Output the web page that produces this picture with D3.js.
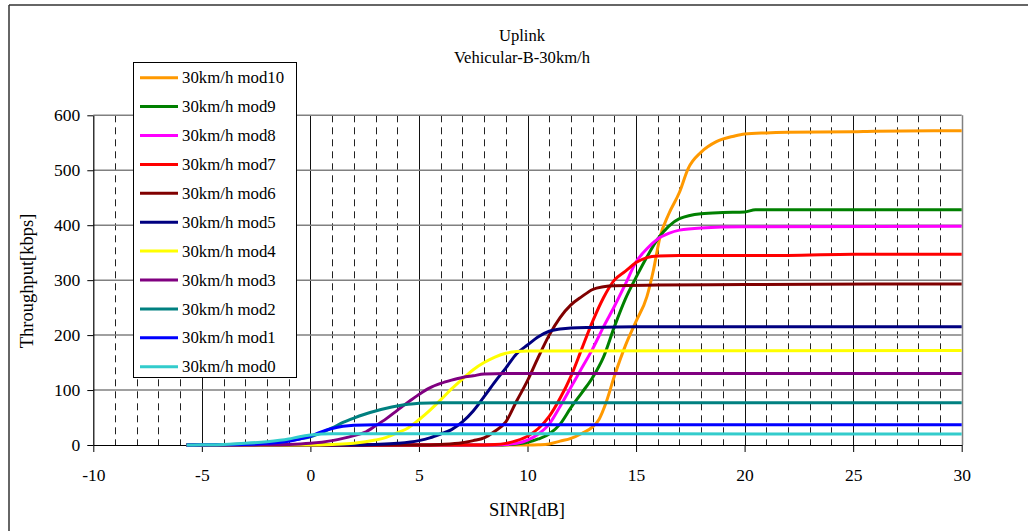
<!DOCTYPE html>
<html><head><meta charset="utf-8">
<script src="https://cdn.jsdelivr.net/npm/d3@7"></script>
<style>
html,body{margin:0;padding:0;background:#fff;}
svg{display:block;}
svg text{font-family:"Liberation Serif","Times New Roman","DejaVu Serif",serif !important;}
</style></head>
<body>
<svg id="chart" width="1028" height="531"></svg>
<script>
// ---- data (SINR dB, throughput kbps) ----
const seriesNames = ["30km/h mod10","30km/h mod9","30km/h mod8","30km/h mod7","30km/h mod6","30km/h mod5","30km/h mod4","30km/h mod3","30km/h mod2","30km/h mod1","30km/h mod0"];
const seriesColors = ["#FF9900","#008000","#FF00FF","#FF0000","#800000","#000080","#FFFF00","#800080","#008080","#0000FF","#33CCCC"];
const mod10 = [[-5.7,0],[10,0],[10.5,0.5],[11,2],[11.5,7],[12,12],[12.5,21],[13,33],[13.3,47],[13.6,75],[14,125],[14.5,180],[15,225],[15.5,270],[15.8,318],[16.1,378],[16.5,420],[17,460],[17.4,503],[18,533],[18.7,552],[19.5,562],[20,566],[21,568],[22,569],[25,570],[26,571],[30,572]];
const mod9 = [[-5.7,0],[8.5,0],[9.5,2],[10,5],[10.5,11],[11,20],[11.5,38],[12,68],[12.5,95],[13,123],[13.5,160],[14,215],[14.5,265],[15,305],[15.5,342],[16,375],[16.5,398],[17,412],[18,421],[19,423],[20,424],[20.5,428],[30,428]];
const mod8 = [[-5.7,0],[8,0],[9,1],[9.5,3],[10,9],[10.5,20],[11,38],[11.5,70],[12,105],[12.5,140],[13,175],[13.5,215],[14,252],[14.5,292],[15,333],[15.5,357],[16,375],[16.5,385],[17,391],[18,395],[20,397],[30,398]];
const mod7 = [[-5.7,0],[7.5,0],[8.5,1],[9,3],[9.5,8],[10,16],[10.5,30],[11,52],[11.5,85],[12,125],[12.5,175],[13,225],[13.5,268],[14,300],[14.5,316],[15,332],[15.5,341],[16,344],[17,345],[22,345],[25,347],[30,347]];
const mod6 = [[-5.7,0],[5,0],[6,1],[7,4],[7.5,8],[8,13],[8.5,25],[9,42],[9.5,80],[10,117],[10.5,160],[11,200],[11.5,232],[12,255],[12.5,270],[13,283],[13.5,288],[14,290],[16,291],[20,292],[30,293]];
const mod5 = [[-5.7,0],[2,0],[3,1],[4,3],[5,8],[5.5,13],[6,20],[6.5,28],[7,42],[7.5,62],[8,88],[8.5,115],[9,140],[9.5,166],[10,182],[10.5,197],[11,207],[11.5,211],[12,213],[13,214],[15,215],[30,215]];
const mod4 = [[-5.7,0],[0,0],[1,1],[2,3],[3,9],[3.5,14],[4,22],[4.5,31],[5,46],[5.5,63],[6,82],[6.5,102],[7,120],[7.5,137],[8,150],[8.5,160],[9,167],[9.5,170],[10,171],[30,172]];
const mod3 = [[-5.7,0],[-3,0],[-2,0.5],[-1,1],[0,3],[1,8],[1.5,12],[2,17],[2.5,23],[3,35],[3.5,48],[4,63],[4.5,78],[5,92],[5.5,104],[6,112],[6.5,118],[7,123],[7.5,126],[8,129],[9,130],[30,130]];
const mod2 = [[-5.7,0],[-4,0.5],[-3,2],[-2,4],[-1,8],[-0.5,11],[0,15],[0.5,22],[1,31],[1.5,41],[2,49],[2.5,56],[3,62],[3.5,67],[4,71],[4.5,74],[5,76],[6,77],[30,77]];
const mod1 = [[-5.7,0],[-4,0.5],[-3,1],[-2,3],[-1,7],[-0.5,11],[0,16],[0.5,24],[1,30],[1.5,34],[2,36],[3,37],[30,37]];
const mod0 = [[-5.7,0],[-5,0.3],[-4,1],[-3,3],[-2,6],[-1,11],[-0.5,15],[0,18],[0.5,20],[1,20.5],[2,20.5],[30,20]];
const seriesData = [mod10,mod9,mod8,mod7,mod6,mod5,mod4,mod3,mod2,mod1,mod0];
const xTicks = [-10,-5,0,5,10,15,20,25,30];
const yTicks = [0,100,200,300,400,500,600];
const titleLines = ["Uplink","Vehicular-B-30km/h"];
const xTitle = "SINR[dB]";
const yTitle = "Throughput[kbps]";

// ---- layout ----
const FONT = "Liberation Serif, Times New Roman, DejaVu Serif, serif";
const svg = d3.select("#chart");
const L = 93.3, R = 961.7, T = 115.3, B = 445;
const x = d3.scaleLinear().domain([-10,30]).range([L,R]);
const y = d3.scaleLinear().domain([0,600]).range([B,T]);

// outer border (top & left)
svg.append("line").attr("x1",9).attr("x2",1028).attr("y1",5).attr("y2",5).attr("stroke","#333").attr("stroke-width",1.5);
svg.append("line").attr("x1",9).attr("x2",9).attr("y1",5).attr("y2",531).attr("stroke","#333").attr("stroke-width",1.5);

// minor dashed vertical grid
const minor = d3.range(-9,30).filter(v => v % 5 !== 0);
svg.append("g").selectAll("line").data(minor).join("line")
  .attr("x1",d=>Math.round(x(d))+0.5).attr("x2",d=>Math.round(x(d))+0.5)
  .attr("y1",T).attr("y2",B)
  .attr("stroke","#222").attr("stroke-width",1).attr("stroke-dasharray","7,5");
// major vertical grid
svg.append("g").selectAll("line").data(xTicks.filter(v=>v>-10)).join("line")
  .attr("x1",d=>Math.round(x(d))+0.5).attr("x2",d=>Math.round(x(d))+0.5)
  .attr("y1",T).attr("y2",B)
  .attr("stroke",d=>d===30?"#808080":"#111").attr("stroke-width",d=>d===30?1.5:1);
// horizontal grid
svg.append("g").selectAll("line").data(yTicks.filter(v=>v>0)).join("line")
  .attr("x1",L).attr("x2",R).attr("y1",d=>y(d)).attr("y2",d=>y(d))
  .attr("stroke","#808080").attr("stroke-width",1.5);

// axes
const fmt = d => String(d);
const xAxis = svg.append("g").attr("transform",`translate(0,${B})`)
  .call(d3.axisBottom(x).tickValues(xTicks).tickFormat(fmt).tickSize(7).tickPadding(17).tickSizeOuter(0));
const yAxis = svg.append("g").attr("transform",`translate(${L},0)`)
  .call(d3.axisLeft(y).tickValues(yTicks).tickFormat(fmt).tickSize(6).tickPadding(7).tickSizeOuter(0));
[xAxis,yAxis].forEach(g=>{
  g.attr("font-family",FONT);
  g.select(".domain").attr("stroke","#000").attr("stroke-width",1.2);
  g.selectAll(".tick line").attr("stroke","#000");
  g.selectAll("text").attr("font-family",FONT).attr("font-size","17.5px").attr("fill","#000");
});

// curves
const line = d3.line().x(d=>x(d[0])).y(d=>y(d[1])).curve(d3.curveMonotoneX);
svg.append("g").selectAll("path").data(seriesData).join("path")
  .attr("d",line).attr("fill","none")
  .attr("stroke",(d,i)=>seriesColors[i]).attr("stroke-width",3)
  .attr("stroke-linejoin","round").attr("stroke-linecap","butt");

// titles
svg.append("g").selectAll("text").data(titleLines).join("text")
  .attr("x",522).attr("y",(d,i)=>40.5+i*22).attr("text-anchor","middle")
  .attr("font-family",FONT).attr("font-size","16.6px").attr("fill","#000").text(d=>d);
svg.append("text").attr("x",527).attr("y",516).attr("text-anchor","middle")
  .attr("font-family",FONT).attr("font-size","18.5px").attr("fill","#000").text(xTitle);
svg.append("text").attr("transform","translate(33,281) rotate(-90)").attr("text-anchor","middle")
  .attr("font-family",FONT).attr("font-size","18.5px").attr("fill","#000").text(yTitle);

// legend
const lg = svg.append("g");
lg.append("rect").attr("x",133.5).attr("y",62.5).attr("width",163).attr("height",315)
  .attr("fill","#fff").attr("stroke","#000").attr("stroke-width",1);
const step = 28.9;
const items = lg.selectAll("g.item").data(seriesNames).join("g").attr("class","item")
  .attr("transform",(d,i)=>`translate(0,${77.7+i*step})`);
items.append("line").attr("x1",140).attr("x2",178).attr("y1",0).attr("y2",0)
  .attr("stroke",(d,i)=>seriesColors[i]).attr("stroke-width",3);
items.append("text").attr("x",182).attr("y",5.6).attr("font-family",FONT).attr("font-size","16.8px").attr("fill","#000").text(d=>d);
</script>
</body></html>
